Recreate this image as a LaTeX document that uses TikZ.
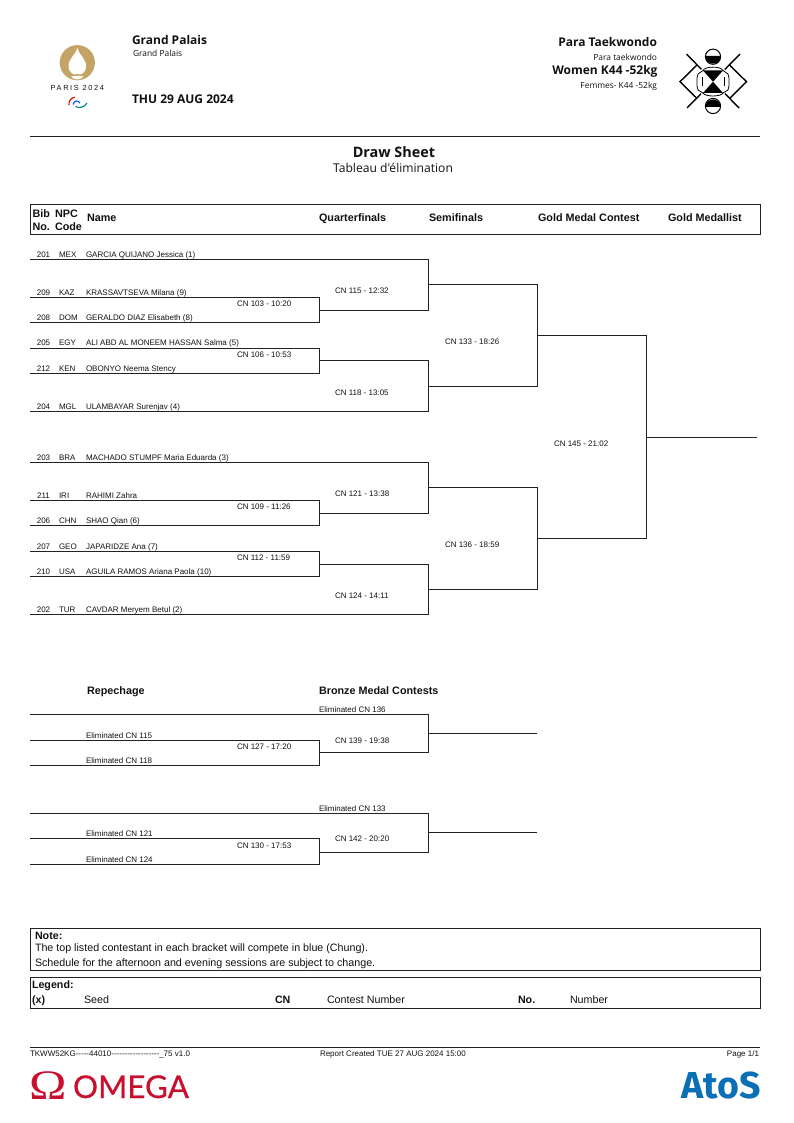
\documentclass[tikz,border=0pt]{standalone}
\usepackage{fontspec}
\setmainfont{Open Sans}
\newfontfamily\arialf{Liberation Sans}
\newfontfamily\notof{Open Sans}
\newfontfamily\serff{Liberation Serif}
\newfontfamily\omegaf[FakeBold=0.6]{Lato}
\newfontfamily\atosf{Fira Sans}
\definecolor{ink}{HTML}{111111}
\definecolor{linec}{HTML}{222222}
\definecolor{gold}{HTML}{C3A464}
\definecolor{omegared}{HTML}{C8102E}
\definecolor{atosblue}{HTML}{0A6FB5}
\newcommand{\fs}[1]{\fontsize{#1}{#1}\selectfont}
\tikzset{
  every node/.style={inner sep=0pt,outer sep=0pt,text=ink},
  cell/.style={anchor=base west,font=\arialf\fs{8}},
  bibn/.style={anchor=base,font=\arialf\fs{8}},
  head/.style={anchor=base west,font=\arialf\bfseries\fs{10.8}},
  notetxt/.style={anchor=base west,font=\arialf\fs{10.7}},
  notebold/.style={anchor=base west,font=\arialf\bfseries\fs{10.7}},
  foot/.style={anchor=base west,font=\arialf\fs{8}},
  ln/.style={draw=linec,line width=1pt,line join=miter},
  pict/.style={draw=black,line width=1pt},
}
\begin{document}
\begin{tikzpicture}[x=1pt,y=-1pt]
\useasboundingbox (0,0) rectangle (793,1123);
% ---------- Paris logo
\fill[gold] (77.3,62.7) circle (17.6);
\fill[white] (77.3,48) .. controls (76.5,54) and (68.5,58) .. (68.5,66.5) .. controls (68.5,71) and (72,74) .. (74.5,74.5)
  .. controls (75.5,75) and (76.5,73.8) .. (77.3,73.8) .. controls (78.1,73.8) and (79.1,75) .. (80.1,74.5)
  .. controls (82.6,74) and (86.1,71) .. (86.1,66.5) .. controls (86.1,58) and (78.1,54) .. (77.3,48) -- cycle;
\fill[white] (71,76.5) .. controls (75,75.6) and (79.6,75.6) .. (83.6,76.5) .. controls (80,80.5) and (74.6,80.5) .. (71,76.5) -- cycle;
\node[anchor=base,font=\arialf\fs{7.4}] (parislogo) at (77.3,91) {\addfontfeature{LetterSpace=22}PARIS 2024};
\draw[line width=1.1pt,color=red!80!black] (69,105) .. controls (68.5,101) and (71,97.5) .. (75,97.2);
\draw[line width=1.1pt,color=blue!70!cyan] (73,104.5) .. controls (74.5,100) and (78,100) .. (80,103);
\draw[line width=1.1pt,color=teal] (75.5,106.5) .. controls (79,108.5) and (84.5,107.5) .. (87,103);
% ---------- header text
\node[anchor=base west,font=\notof\bfseries\fs{12}] (venue) at (132,44.5) {Grand Palais};
\node[anchor=base west,font=\notof\fs{8.4}] (venuefr) at (133,57) {Grand Palais};
\node[anchor=base west,font=\notof\bfseries\fs{12}] (date) at (132,104) {THU 29 AUG 2024};
\node[anchor=base east,font=\notof\bfseries\fs{12}] (sport) at (657,47) {Para Taekwondo};
\node[anchor=base east,font=\notof\fs{8.4}] (sportfr) at (657,61) {Para taekwondo};
\node[anchor=base east,font=\notof\bfseries\fs{12}] (event) at (657.5,75) {Women K44 -52kg};
\node[anchor=base east,font=\notof\fs{8.4}] (eventfr) at (657,89) {Femmes- K44 -52kg};
% ---------- pictogram
\draw[pict,line width=1.4pt] (686.5,54) -- (739,108);
\draw[pict,line width=1.4pt] (740,54) -- (687,108);
\draw[pict,line width=1.4pt] (697,65) -- (680,81.7) -- (697,98.5);
\draw[pict,line width=1.4pt] (729.5,65) -- (746.5,81.7) -- (729.5,98.5);
\fill[white] (703,67.5) -- (723,67.5) -- (729,75) -- (729,88) -- (723,96) -- (703,96) -- (697,88) -- (697,75) -- cycle;
\fill[black] (703,70.5) -- (723,70.5) -- (713,81.7) -- cycle;
\fill[black] (703,93) -- (723,93) -- (713,81.7) -- cycle;
\draw[pict,line width=0.8pt] (703,70.5) -- (698,74) -- (697,78) -- (697,86) -- (698,90) -- (703,93);
\draw[pict,line width=0.8pt] (723,70.5) -- (728,74) -- (729,78) -- (729,86) -- (728,90) -- (723,93);
\draw[pict,line width=0.8pt] (703,70.5) .. controls (705,66) and (721,66) .. (723,70.5);
\draw[pict,line width=0.8pt] (703,93) .. controls (705,97) and (721,97) .. (723,93);
\draw[pict,line width=0.9pt] (702.8,77.5) -- (702.8,86);
\draw[pict,line width=0.9pt] (724.5,77.5) -- (724.5,86);
\fill[white,draw=black,line width=1pt] (713,56.7) circle (7.6);
\fill[black] (705.4,56) arc[start angle=180,end angle=0,radius=7.6] -- cycle;
\fill[white,draw=black,line width=1pt] (713,106) circle (7.6);
\fill[black] (705.4,107) arc[start angle=180,end angle=360,radius=7.6] -- cycle;
% ---------- rule and title
\coordinate (hrL) at (30,136.5); \coordinate (hrR) at (760,136.5);
\draw[ln] (hrL) -- (hrR);
\node[anchor=base,font=\notof\bfseries\fs{14.4}] (title) at (394,157.5) {Draw Sheet};
\node[anchor=base,font=\notof\fs{12.1}] (subtitle) at (393,173) {Tableau d'élimination};
% ---------- column header
\node[draw=linec,line width=1pt,minimum width=730pt,minimum height=30pt,anchor=north west] (headbox) at (30,205) {};
\node[head] (hbib1) at (32.5,218) {Bib};
\node[head] (hbib2) at (32.5,230) {No.};
\node[head] (hnpc1) at (55,218) {NPC};
\node[head] (hnpc2) at (55,230) {Code};
\node[head] (hname) at (87,222) {Name};
\node[head] (hqf) at (319,222) {Quarterfinals};
\node[head] (hsf) at (429,222) {Semifinals};
\node[head] (hgmc) at (538,222) {Gold Medal Contest};
\node[head] (hgm) at (668,222) {Gold Medallist};
% ---------- entries
\newcommand{\entry}[5]{%
  \node[bibn] (bib#1) at (43.5,#2) {#1};
  \node[cell] (npc#1) at (59,#2) {#3};
  \node[cell] (name#1) at (86,#2) {#4};
  \coordinate (L#1) at (30,#5);
}
\entry{201}{257}{MEX}{GARCIA QUIJANO Jessica (1)}{259.5}
\entry{209}{295}{KAZ}{KRASSAVTSEVA Milana (9)}{297.3}
\entry{208}{320.5}{DOM}{GERALDO DIAZ Elisabeth (8)}{322.8}
\entry{205}{345.5}{EGY}{ALI ABD AL MONEEM HASSAN Salma (5)}{348}
\entry{212}{371}{KEN}{OBONYO Neema Stency}{373.7}
\entry{204}{409.2}{MGL}{ULAMBAYAR Surenjav (4)}{411.7}
\entry{203}{460}{BRA}{MACHADO STUMPF Maria Eduarda (3)}{462.3}
\entry{211}{498}{IRI}{RAHIMI Zahra}{500}
\entry{206}{523}{CHN}{SHAO Qian (6)}{525.5}
\entry{207}{549}{GEO}{JAPARIDZE Ana (7)}{551}
\entry{210}{574}{USA}{AGUILA RAMOS Ariana Paola (10)}{576.5}
\entry{202}{612}{TUR}{CAVDAR Meryem Betul (2)}{614.3}
% ---------- contest labels
\foreach \nm/\t/\xx/\yy in {c103/CN 103 - 10:20/237/306, c106/CN 106 - 10:53/237/357, c109/CN 109 - 11:26/237/509, c112/CN 112 - 11:59/237/560,
  c115/CN 115 - 12:32/335/293, c118/CN 118 - 13:05/335/395, c121/CN 121 - 13:38/335/496, c124/CN 124 - 14:11/335/598,
  c133/CN 133 - 18:26/445/344, c136/CN 136 - 18:59/445/547, c145/CN 145 - 21:02/554/446,
  c127/CN 127 - 17:20/237/749, c130/CN 130 - 17:53/237/848, c139/CN 139 - 19:38/335/743.5, c142/CN 142 - 20:20/335/841}
  {\node[cell] (\nm) at (\xx,\yy) {\t};}
% ---------- bracket junctions
\newcommand{\bx}[3]{\coordinate (#1) at (#2,#3);}
\bx{a1}{319}{297.3}\bx{a2}{319}{322.8}\bx{a3}{319}{310}
\bx{b1}{319}{348}\bx{b2}{319}{373.7}\bx{b3}{319}{360.7}
\bx{c1}{319}{500}\bx{c2}{319}{525.5}\bx{c3}{319}{513}
\bx{d1}{319}{551}\bx{d2}{319}{576.5}\bx{d3}{319}{564}
\bx{e1}{428}{259.5}\bx{e2}{428}{310}\bx{e3}{428}{284.5}
\bx{f1}{428}{360.7}\bx{f2}{428}{411.7}\bx{f3}{428}{386}
\bx{g1}{428}{462.3}\bx{g2}{428}{513}\bx{g3}{428}{487.5}
\bx{h1}{428}{564}\bx{h2}{428}{614.3}\bx{h3}{428}{589}
\bx{i1}{537}{284.5}\bx{i2}{537}{386}\bx{i3}{537}{335.3}
\bx{j1}{537}{487.5}\bx{j2}{537}{589}\bx{j3}{537}{538}
\bx{k1}{646.5}{335.3}\bx{k2}{646.5}{538}\bx{k3}{646.5}{437}
\bx{winner}{757}{437}
\draw[ln] (L209) -- (a1) -- (a2) -- (L208);
\draw[ln] (L205) -- (b1) -- (b2) -- (L212);
\draw[ln] (L211) -- (c1) -- (c2) -- (L206);
\draw[ln] (L207) -- (d1) -- (d2) -- (L210);
\draw[ln] (L201) -- (e1) -- (e2) -- (a3);
\draw[ln] (b3) -- (f1) -- (f2) -- (L204);
\draw[ln] (L203) -- (g1) -- (g2) -- (c3);
\draw[ln] (d3) -- (h1) -- (h2) -- (L202);
\draw[ln] (e3) -- (i1) -- (i2) -- (f3);
\draw[ln] (g3) -- (j1) -- (j2) -- (h3);
\draw[ln] (i3) -- (k1) -- (k2) -- (j3);
\draw[ln] (k3) -- (winner);
% ---------- repechage
\node[head] (hrep) at (87,694) {Repechage};
\node[head] (hbronze) at (319,694) {Bronze Medal Contests};
\node[cell] (e136) at (319,712) {Eliminated CN 136};
\node[cell] (e115) at (86,738) {Eliminated CN 115};
\node[cell] (e118) at (86,763) {Eliminated CN 118};
\node[cell] (e133) at (319,811) {Eliminated CN 133};
\node[cell] (e121) at (86,836) {Eliminated CN 121};
\node[cell] (e124) at (86,862) {Eliminated CN 124};
\bx{r1}{30}{714.7}\bx{r2}{428}{714.7}\bx{r3}{428}{752.9}\bx{r4}{319}{752.9}
\bx{r5}{30}{740.3}\bx{r6}{319}{740.3}\bx{r7}{319}{765.7}\bx{r8}{30}{765.7}
\bx{r9}{428}{733.7}\bx{r10}{537}{733.7}
\bx{s1}{30}{813.7}\bx{s2}{428}{813.7}\bx{s3}{428}{852}\bx{s4}{319}{852}
\bx{s5}{30}{838.7}\bx{s6}{319}{838.7}\bx{s7}{319}{864.3}\bx{s8}{30}{864.3}
\bx{s9}{428}{832.7}\bx{s10}{537}{832.7}
\draw[ln] (r1) -- (r2) -- (r3) -- (r4);
\draw[ln] (r5) -- (r6) -- (r7) -- (r8);
\draw[ln] (r9) -- (r10);
\draw[ln] (s1) -- (s2) -- (s3) -- (s4);
\draw[ln] (s5) -- (s6) -- (s7) -- (s8);
\draw[ln] (s9) -- (s10);
% ---------- note and legend
\node[draw=linec,line width=1pt,minimum width=730pt,minimum height=42pt,anchor=north west] (notebox) at (30,928) {};
\node[notebold] (notehead) at (35,939) {Note:};
\node[notetxt] (note1) at (35,951) {The top listed contestant in each bracket will compete in blue (Chung).};
\node[notetxt] (note2) at (35,966) {Schedule for the afternoon and evening sessions are subject to change.};
\node[draw=linec,line width=1pt,minimum width=730pt,minimum height=31pt,anchor=north west] (legendbox) at (30,977) {};
\node[notebold] (leghead) at (32,988) {Legend:};
\node[notebold] (legx) at (32,1003.5) {(x)};
\node[notetxt] (legseed) at (84,1003) {Seed};
\node[notebold] (legcn) at (275,1003.5) {CN};
\node[notetxt] (legcnt) at (327,1003) {Contest Number};
\node[notebold] (legno) at (518,1003.5) {No.};
\node[notetxt] (legnum) at (570,1003) {Number};
% ---------- footer
\coordinate (frL) at (30,1047.5); \coordinate (frR) at (760,1047.5);
\draw[ln] (frL) -- (frR);
\node[foot] (fcode) at (30,1056) {TKWW52KG-----44010------------------\_75 v1.0};
\node[foot] (freport) at (320,1056) {Report Created TUE 27 AUG 2024 15:00};
\node[foot,anchor=base east] (fpage) at (759,1056) {Page 1/1};
\node[anchor=base west,font=\serff\fs{42},text=omegared,xscale=1.2] (omegasym) at (29,1099) {Ω};
\node[anchor=base west,font=\omegaf\fs{31.4},text=omegared] (omegaword) at (73,1098) {OMEGA};
\node[anchor=base east,font=\atosf\bfseries\fs{37.5},text=atosblue] (atos) at (761,1098) {AtoS};
\end{tikzpicture}
\end{document}
